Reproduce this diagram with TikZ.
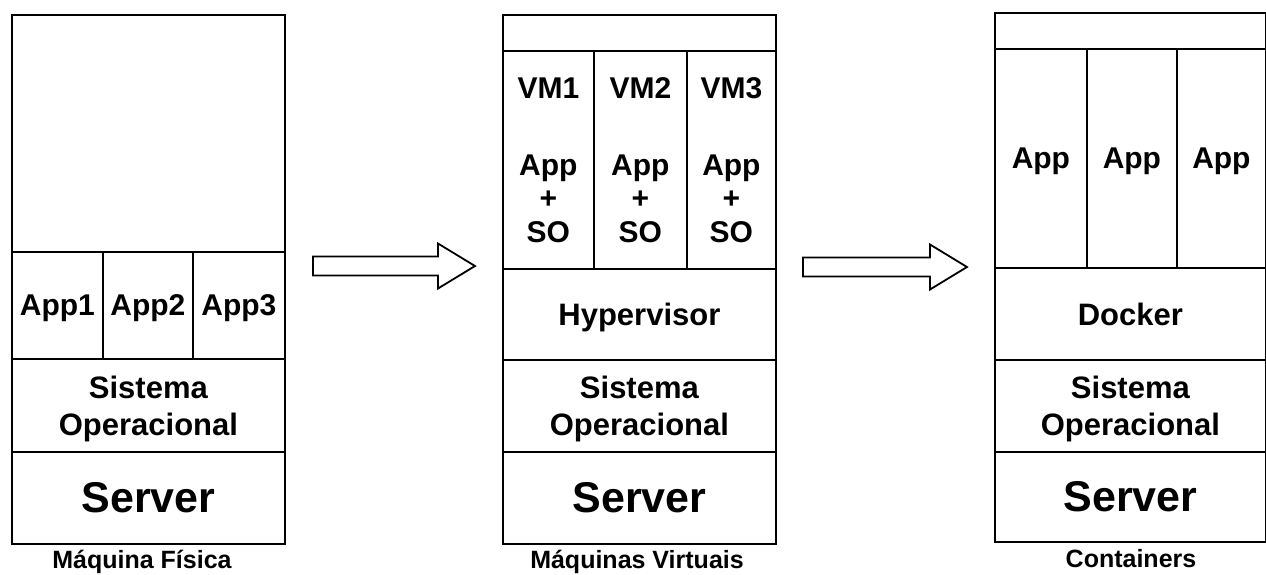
\documentclass[tikz,border=0pt]{standalone}
\usepackage{fontspec}
\setmainfont{Liberation Sans}

\begin{document}
\begin{tikzpicture}[x=1pt,y=-1pt,
  box/.style={draw,line width=1.8pt,inner sep=0pt,text depth=0pt,anchor=north west,align=center,
    font=\bfseries\fontsize{30}{33.5}\selectfont},
  mid/.style={font=\bfseries\fontsize{31}{37}\selectfont},
  big/.style={font=\bfseries\fontsize{43}{50}\selectfont},
  caption/.style={anchor=base,font=\bfseries\fontsize{25}{30}\selectfont},
  blk/.style={draw,line width=1.8pt,line join=miter}]
  \useasboundingbox (0,0) rectangle (1266,574);

  % Maquina fisica
  \node[box,minimum width=273pt,minimum height=237pt] (top1) at (11,14) {};
  \node[box,minimum width=91pt,minimum height=107pt] (app1) at (11,251) {App1};
  \node[box,minimum width=90pt,minimum height=107pt] (app2) at (102,251) {App2};
  \node[box,minimum width=92pt,minimum height=107pt] (app3) at (192,251) {App3};
  \node[box,mid,minimum width=273pt,minimum height=93pt] (so1) at (11,358) {Sistema\\Operacional};
  \node[box,big,minimum width=273pt,minimum height=92pt] (srv1) at (11,451) {Server};
  \node[caption] (cap1) at (142,568) {Máquina Física};

  % Maquinas virtuais
  \node[box,minimum width=273pt,minimum height=36pt] (top2) at (502,14) {};
  \node[box,minimum width=91pt,minimum height=218pt] (vm1) at (502,50) {VM1\\[43.5pt]App\\+\\SO};
  \node[box,minimum width=93pt,minimum height=218pt] (vm2) at (593,50) {VM2\\[43.5pt]App\\+\\SO};
  \node[box,minimum width=89pt,minimum height=218pt] (vm3) at (686,50) {VM3\\[43.5pt]App\\+\\SO};
  \node[box,mid,minimum width=273pt,minimum height=91pt] (hyp) at (502,268) {Hypervisor};
  \node[box,mid,minimum width=273pt,minimum height=92pt] (so2) at (502,359) {Sistema\\Operacional};
  \node[box,big,minimum width=273pt,minimum height=92pt] (srv2) at (502,451) {Server};
  \node[caption] (cap2) at (637,568) {Máquinas Virtuais};

  % Containers
  \node[box,minimum width=271pt,minimum height=36pt] (top3) at (994,12) {};
  \node[box,minimum width=92pt,minimum height=219pt] (ctr1) at (994,48) {App};
  \node[box,minimum width=90pt,minimum height=219pt] (ctr2) at (1086,48) {App};
  \node[box,minimum width=89pt,minimum height=219pt] (ctr3) at (1176,48) {App};
  \node[box,mid,minimum width=271pt,minimum height=92pt] (dck) at (994,267) {Docker};
  \node[box,mid,minimum width=271pt,minimum height=92pt] (so3) at (994,359) {Sistema\\Operacional};
  \node[box,big,minimum width=271pt,minimum height=90pt] (srv3) at (994,451) {Server};
  \node[caption] (cap3) at (1131,567) {Containers};

  % setas
  \coordinate (a1) at (313,266);
  \coordinate (a2) at (803,267);
  \draw[blk] (a1) -- ++(0,-9.5) -- ++(125,0) -- ++(0,-13) -- ++(37,22.5)
    -- ++(-37,22.5) -- ++(0,-13) -- ++(-125,0) -- cycle;
  \draw[blk] (a2) -- ++(0,-9.5) -- ++(127,0) -- ++(0,-13) -- ++(37,22.5)
    -- ++(-37,22.5) -- ++(0,-13) -- ++(-127,0) -- cycle;
\end{tikzpicture}
\end{document}
